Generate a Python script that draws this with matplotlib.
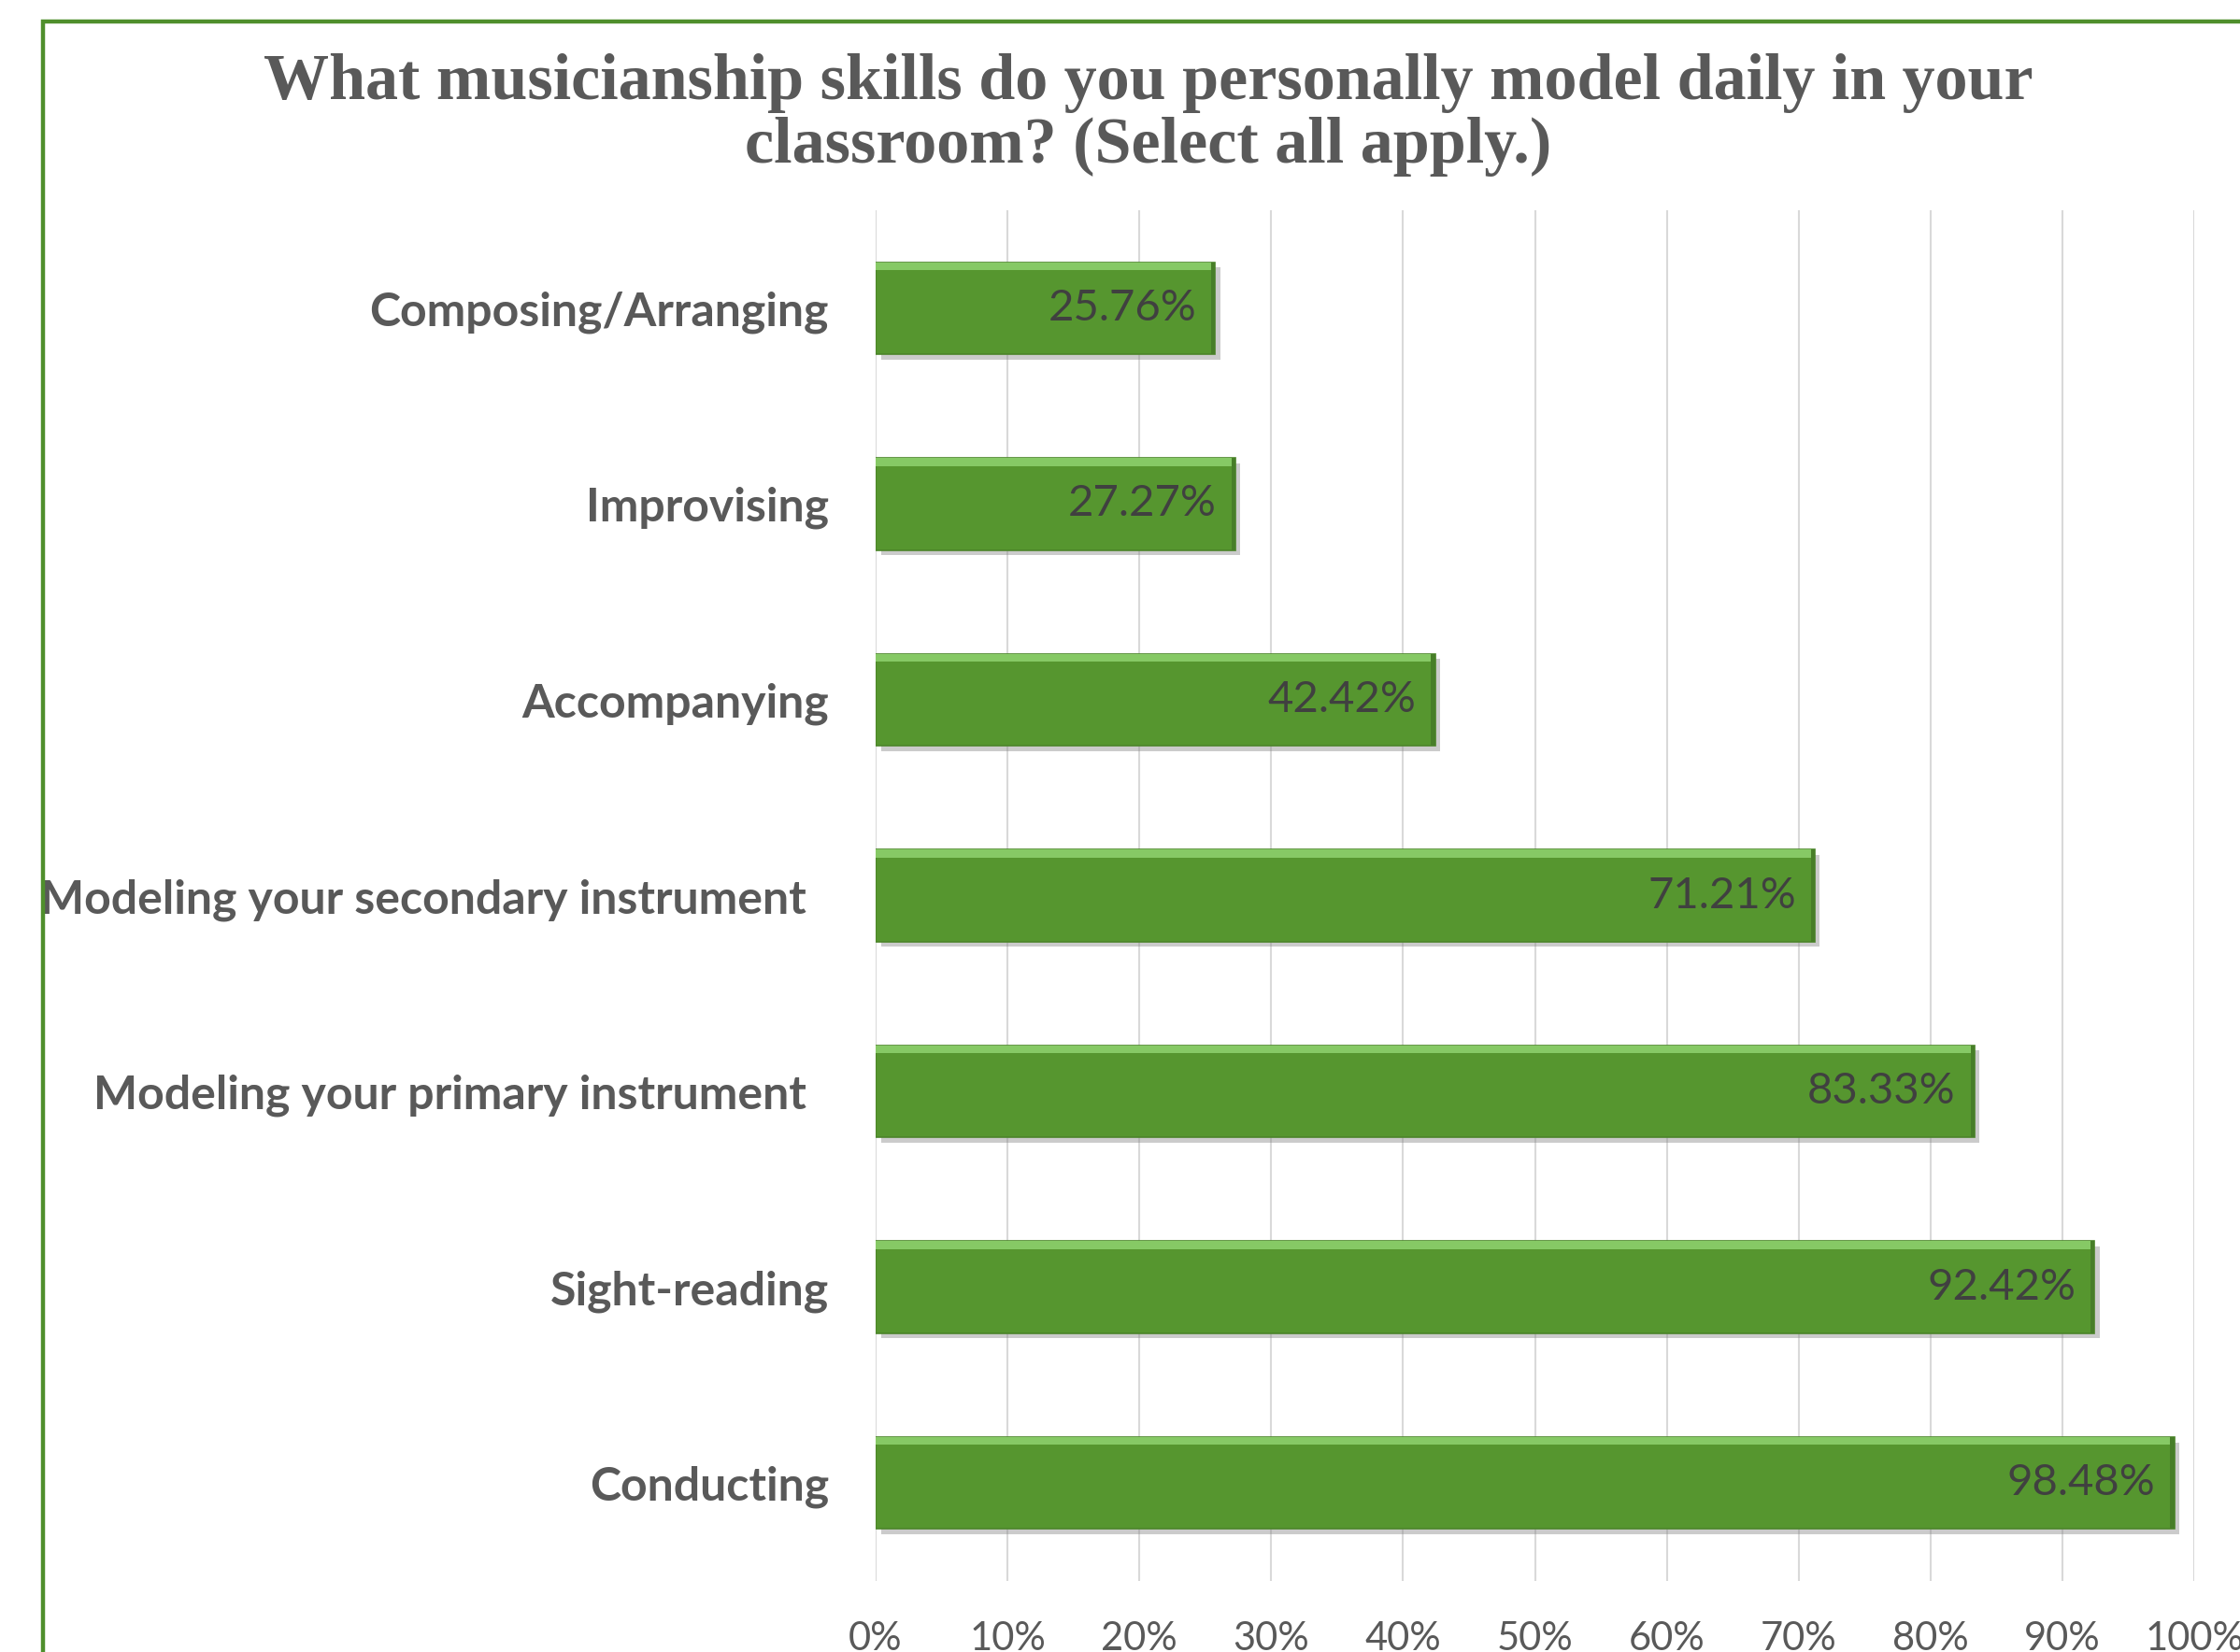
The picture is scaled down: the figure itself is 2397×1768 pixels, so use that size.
import matplotlib
matplotlib.use("Agg")
import matplotlib.pyplot as plt
import matplotlib.patheffects as pe
from matplotlib.patches import Rectangle

# survey answers, drawn top to bottom
skills = ["Composing/Arranging", "Improvising", "Accompanying",
          "Modeling your secondary instrument  ", "Modeling your primary instrument  ",
          "Sight-reading", "Conducting"]
pcts = [25.76, 27.27, 42.42, 71.21, 83.33, 92.42, 98.48]
xticks = [0, 10, 20, 30, 40, 50, 60, 70, 80, 90, 100]

title = "What musicianship skills do you personally model daily in your\nclassroom? (Select all apply.)"

GREEN = "#56962f"
GREY_TXT = "#595959"

fig = plt.figure(figsize=(23.97, 17.68), dpi=100)
ax = fig.add_axes([0.3909, 0.0430, 0.5887, 0.8297])

ypos = list(range(len(skills)))
bh = 0.47

shadow = [pe.SimplePatchShadow(offset=(4, -4), shadow_rgbFace="#7f7f7f", alpha=0.4), pe.Normal()]
bars = ax.barh(ypos, pcts, height=bh, color=GREEN, edgecolor="#4c852a", linewidth=1.2,
               zorder=3, path_effects=shadow)
# bevel: light strip on top, darker strip on the right
ax.barh([y - bh / 2 + 0.02 for y in ypos], pcts, height=0.04, color="#86c965",
        linewidth=0, zorder=4)
ax.barh(ypos, [0.3] * len(pcts), left=[p - 0.3 for p in pcts], height=bh,
        color="#477e28", linewidth=0, zorder=4)

for y, p in zip(ypos, pcts):
    ax.annotate(f"{p:.2f}%", xy=(p, y), xytext=(-20, 0), textcoords="offset pixels",
                ha="right", va="center", fontsize=34, family="Lato", color="#404040",
                zorder=5)

ax.set_xlim(0, 100)
ax.set_ylim(len(skills) - 0.5, -0.5)
ax.set_xticks(xticks)
ax.set_xticklabels([f"{t}%" for t in xticks])
ax.set_yticks(ypos)
ax.set_yticklabels(skills)
ax.tick_params(axis="y", length=0, pad=36, labelsize=36, labelcolor=GREY_TXT)
ax.tick_params(axis="x", length=0, pad=31, labelsize=30, labelcolor=GREY_TXT)
for lab in ax.get_yticklabels():
    lab.set_fontfamily("Lato")
    lab.set_fontweight("bold")
for lab in ax.get_xticklabels():
    lab.set_fontfamily("Lato")

ax.grid(axis="x", color="#d9d9d9", linewidth=1.5, zorder=0)
ax.set_axisbelow(True)
for s in ax.spines.values():
    s.set_visible(False)

fig.text(0.5128, 0.968, title, ha="center", va="top", fontsize=50.5,
         family="Liberation Serif", fontweight="bold", color=GREY_TXT, linespacing=1.1)

# green chart frame, cut off at right and bottom like the screenshot
fig.patches.append(Rectangle((46 / 2397, -0.05), 1.2, 1 - 23 / 1768 + 0.05,
                             transform=fig.transFigure, fill=False,
                             edgecolor="#4f8f2c", linewidth=3.2))

fig.savefig("out.png", dpi=100)
